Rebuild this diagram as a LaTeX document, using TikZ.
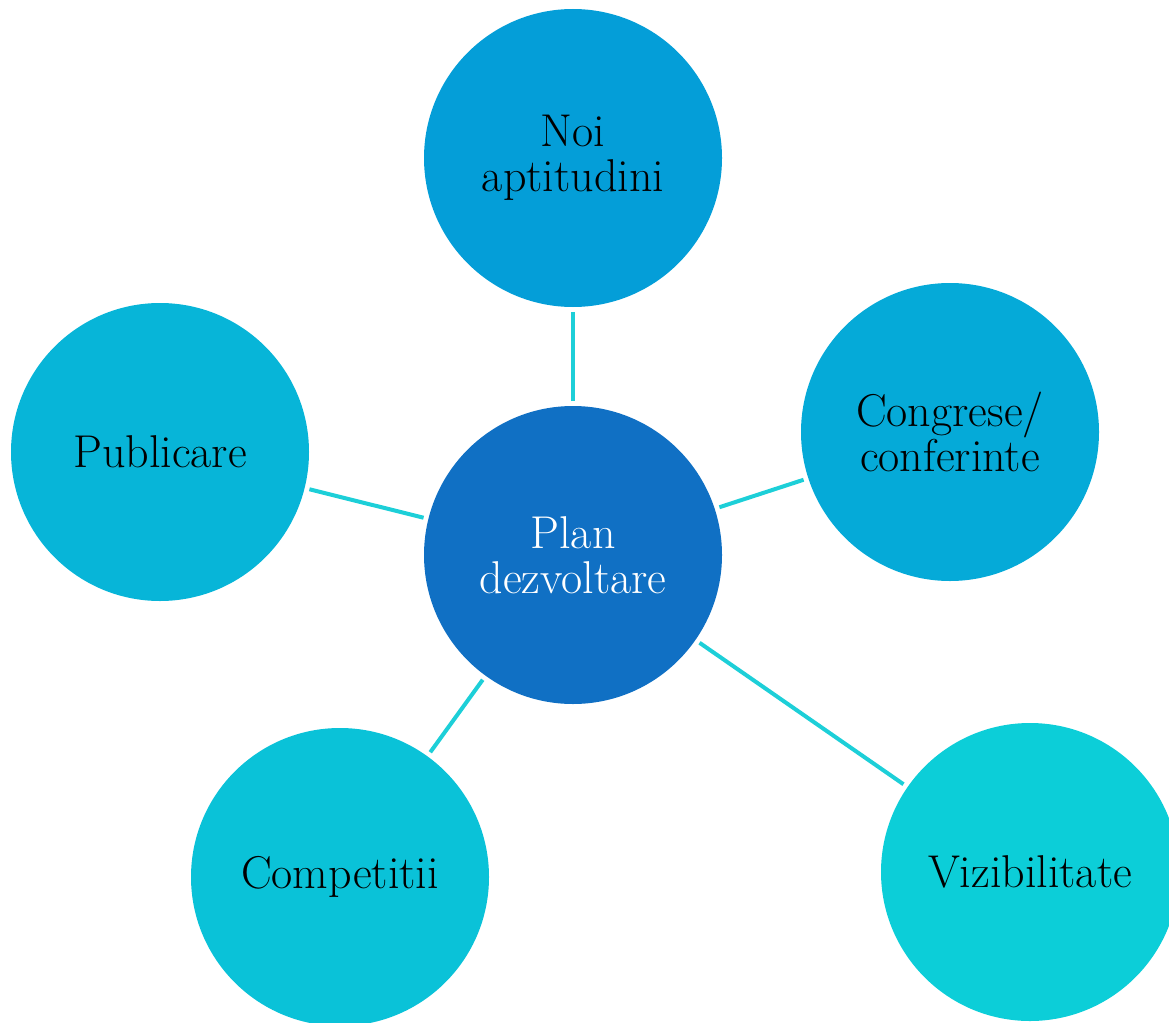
\documentclass[tikz,border=0pt]{standalone}
\begin{document}
\begin{tikzpicture}[x=1pt,y=-1pt,
  bubble/.style={circle,minimum size=298pt,inner sep=0pt,outer sep=0pt,
    text width=270pt,align=center,font=\fontsize{46}{45}\selectfont},
  link/.style={draw=linkc,line width=4pt,shorten <=5pt,shorten >=5pt}]
\definecolor{hubc}{HTML}{1070C4}
\definecolor{topc}{HTML}{049ED8}
\definecolor{rightc}{HTML}{05AAD8}
\definecolor{leftc}{HTML}{07B5D8}
\definecolor{blc}{HTML}{0AC2D8}
\definecolor{brc}{HTML}{0CCED8}
\definecolor{linkc}{HTML}{1DCFD8}
\useasboundingbox (0,0) rectangle (1169,1022);
\clip (0,0) rectangle (1169,1022);
% central topic and its five branches
\node[bubble,fill=hubc,text=white] (hub) at (573,555) {Plan\\dezvoltare};
\node[bubble,fill=topc] (skills) at (573,158) {Noi\\aptitudini};
\node[bubble,fill=rightc] (conf) at (950,432) {Congrese/\\conferinte};
\node[bubble,fill=leftc] (pub) at (160,452) {Publicare};
\node[bubble,fill=blc] (comp) at (340,877) {Competitii};
\node[bubble,fill=brc] (vis) at (1030,872) {Vizibilitate};
% spokes
\draw[link] (hub) -- (skills);
\draw[link] (hub) -- (conf);
\draw[link] (hub) -- (pub);
\draw[link] (hub) -- (comp);
\draw[link] (hub) -- (vis);
\end{tikzpicture}
\end{document}
